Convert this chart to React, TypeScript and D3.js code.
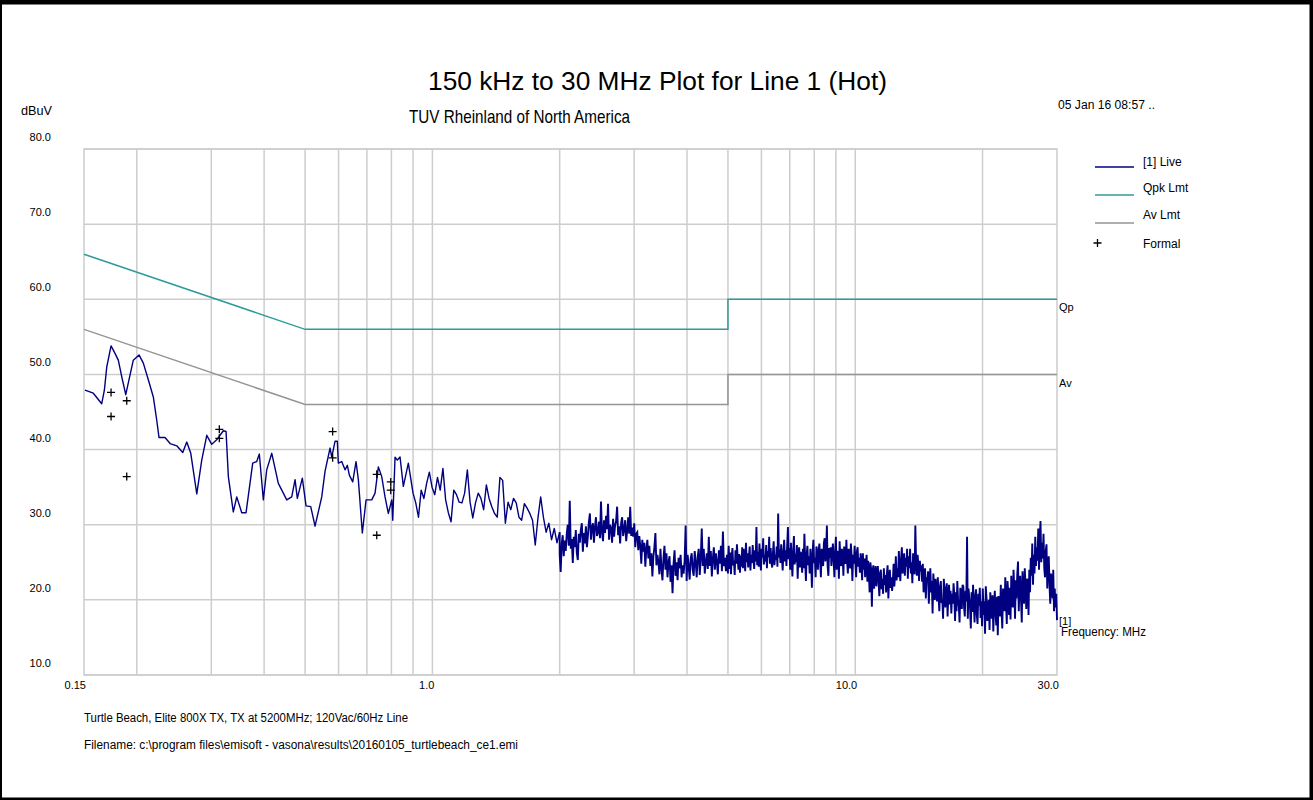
import React from 'react';
import * as d3 from 'd3';

const W = 1313;
const H = 800;
const PL = 84, PR = 1057, PT = 149, PB = 675;

const yTickValues = [80, 70, 60, 50, 40, 30, 20, 10];
const xTickLabels: [number, string][] = [[0.15, '0.15'], [1, '1.0'], [10, '10.0'], [30, '30.0']];
const xGridFreqs = [0.2, 0.3, 0.4, 0.5, 0.6, 0.7, 0.8, 0.9, 1, 2, 3, 4, 5, 6, 7, 8, 9, 10, 20];

const qpkFreq = [0.15, 0.5, 5, 5, 30];
const qpkVals = [66, 56, 56, 60, 60];
const avFreq = [0.15, 0.5, 5, 5, 30];
const avVals = [56, 46, 46, 50, 50];

// Live trace, low band: [MHz, dBuV]
const liveLow: [number, number][] = [
  [0.1508, 47.9], [0.1578, 47.5], [0.1652, 46.1], [0.1676, 47.9], [0.1698, 51.0], [0.1738, 53.8],
  [0.1776, 52.8], [0.1808, 51.9], [0.1842, 49.7], [0.1883, 47.3], [0.1927, 49.9], [0.1962, 51.9],
  [0.2024, 52.6], [0.2072, 51.5], [0.2129, 49.3], [0.2188, 47.0], [0.2229, 43.9], [0.2257, 41.6],
  [0.2332, 41.6], [0.2397, 40.8], [0.2486, 40.5], [0.2568, 39.6], [0.2625, 41.0], [0.2683, 39.5],
  [0.2772, 34.1], [0.2848, 38.6], [0.2927, 41.9], [0.3007, 40.7], [0.3090, 41.3], [0.3203, 42.5],
  [0.3251, 42.4], [0.3292, 36.4], [0.3382, 31.7], [0.3446, 33.7], [0.3541, 31.6], [0.3625, 31.6],
  [0.3759, 38.2], [0.3842, 38.4], [0.3897, 39.4], [0.3983, 33.3], [0.4057, 37.3], [0.4170, 39.5],
  [0.4322, 35.5], [0.4524, 33.3], [0.4649, 33.7], [0.4734, 36.0], [0.4793, 33.5], [0.4925, 36.2],
  [0.5026, 32.5], [0.5156, 32.4], [0.5278, 29.8], [0.5474, 33.7], [0.5573, 37.1], [0.5727, 40.2],
  [0.5781, 39.0], [0.5885, 41.1], [0.5959, 41.1], [0.5992, 38.2], [0.6104, 38.4], [0.6214, 37.3],
  [0.6293, 37.9], [0.6362, 36.6], [0.6480, 35.7], [0.6598, 38.4], [0.6682, 36.0], [0.6828, 28.9],
  [0.6968, 33.3], [0.7188, 33.3], [0.7318, 34.2], [0.7451, 37.7], [0.7589, 36.4], [0.7727, 33.7],
  [0.7867, 31.5], [0.8015, 33.3], [0.8058, 30.6], [0.8160, 39.0], [0.8262, 38.6], [0.8385, 39.0],
  [0.8537, 35.1], [0.8772, 38.2],
];

// Swept segments (log-spaced sweep points between start and stop), dBuV
const sweep1Start = 0.9, sweep1Stop = 2.0;
const sweep1Values = [
  34.2, 32.9, 31.0, 34.6, 33.5, 35.5, 37.0, 35.0, 34.0, 36.3,
  34.6, 37.5, 33.3, 31.6, 30.4, 34.6, 34.0, 33.0, 32.9, 34.2,
  37.3, 33.0, 30.9, 32.9, 34.2, 33.5, 32.0, 35.3, 33.5, 32.4,
  31.5, 31.0, 36.3, 35.9, 30.2, 33.0, 32.0, 33.5, 32.9, 31.0,
  30.6, 32.8, 32.2, 31.5, 30.6, 27.3, 30.9, 33.7, 31.0, 29.0,
  30.2, 28.0, 29.5, 27.6, 29.0,
];

const sweep2Start = 2.0, sweep2Stop = 5.0;
const sweep2Values = [
  26.0, 23.7, 27.5, 28.6, 25.8, 27.9, 26.5, 28.8, 30.0, 27.2, 33.2, 26.8, 28.1, 24.9,
  28.4, 27.0, 29.3, 26.2, 25.3, 28.8, 27.6, 29.3, 30.2, 26.4, 28.9, 27.5, 29.8, 27.0,
  28.5, 30.4, 31.5, 28.0, 29.6, 30.2, 27.6, 29.7, 31.0, 28.5, 29.0, 30.4, 28.2, 33.1,
  29.0, 27.8, 30.6, 28.9, 31.2, 29.4, 32.8, 28.0, 30.0, 29.5, 27.6, 30.8, 28.4, 29.9,
  30.5, 32.4, 28.6, 29.8, 27.5, 30.2, 31.0, 28.5, 29.4, 30.6, 27.8, 29.2, 31.0, 28.8,
  32.4, 28.5, 29.6, 28.4, 30.2, 27.0, 28.8, 29.0, 26.6, 28.5, 27.2, 24.8, 28.0, 26.4,
  27.6, 24.4, 26.8, 28.0, 25.5, 27.2, 24.5, 26.2, 23.1, 25.8, 27.0, 28.9, 24.6, 26.0,
  25.0, 23.4, 26.8, 24.2, 22.6, 25.5, 27.2, 24.0, 26.2, 23.0, 25.0, 25.8, 22.4, 24.6,
  20.9, 24.8, 26.6, 23.2, 25.0, 22.6, 25.6, 24.2, 26.0, 23.0, 24.6, 23.5, 25.2, 29.9,
  22.5, 26.0, 24.5, 22.7, 25.5, 26.2, 24.0, 23.2, 26.5, 25.0, 23.0, 25.8, 26.8, 23.3,
  25.5, 29.5, 24.5, 26.8, 23.5, 25.0, 26.2, 24.1, 28.4, 24.5, 26.5, 23.1, 25.5, 27.0,
  24.0, 26.2, 25.0, 23.4, 26.6, 24.8, 27.2, 23.8, 29.1, 24.5, 25.6, 23.8, 26.0, 23.5,
];

const sweep3Start = 5.0, sweep3Stop = 30.0;
const sweep3Values = [
  25.0, 27.2, 24.1, 26.3, 23.4, 25.8, 26.9, 24.6, 25.2, 23.3, 26.6, 24.8, 27.4, 25.5, 24.0, 26.1, 23.6, 25.9, 24.4, 27.0,
  24.2, 26.8, 25.3, 23.8, 27.6, 25.0, 26.2, 24.3, 25.7, 27.1, 23.9, 26.0, 24.9, 27.3, 25.4, 24.1, 26.6, 25.1, 29.7, 24.6,
  26.4, 24.4, 27.5, 25.2, 23.9, 26.8, 25.6, 28.2, 24.7, 26.0, 25.1, 27.3, 24.2, 26.5, 25.7, 28.4, 24.8, 26.9, 25.0, 24.3,
  26.2, 27.8, 24.6, 26.0, 25.3, 27.1, 24.4, 31.5, 25.6, 26.7, 24.9, 27.4, 25.8, 23.9, 26.3, 28.0, 25.1, 26.6, 24.5, 27.2,
  29.7, 25.4, 26.9, 24.0, 27.6, 25.2, 23.1, 26.5, 28.5, 24.7, 26.1, 25.0, 27.3, 22.8, 25.9, 27.0, 24.3, 26.4, 25.5, 23.6,
  26.8, 24.2, 28.8, 25.3, 22.5, 26.0, 27.2, 24.6, 25.8, 23.5, 26.8, 25.1, 21.6, 26.4, 28.0, 24.9, 25.6, 23.0, 27.1, 26.5,
  24.0, 26.6, 27.5, 25.0, 23.0, 26.8, 25.4, 24.5, 27.6, 28.2, 25.1, 26.3, 29.9, 24.4, 23.2, 26.9, 25.6, 27.0, 24.5, 26.1,
  27.5, 25.2, 23.0, 26.4, 28.4, 24.0, 25.9, 26.5, 22.8, 27.8, 25.3, 24.5, 26.8, 26.0, 23.2, 27.1, 25.5, 24.8, 28.0, 25.0,
  23.5, 26.8, 25.4, 24.2, 27.5, 25.8, 22.5, 26.0, 24.8, 27.2, 25.1, 23.0, 26.4, 27.0, 24.4, 25.6, 23.6, 26.2, 24.9, 22.6,
  26.2, 24.0, 25.5, 23.0, 24.8, 26.0, 22.4, 25.2, 23.6, 21.0, 25.0, 24.1, 19.1, 23.9, 24.6, 21.5, 23.2, 24.5, 21.8, 23.5,
  24.5, 22.2, 20.5, 23.6, 24.0, 21.4, 22.8, 20.8, 24.2, 22.0, 23.3, 21.0, 23.5, 24.6, 20.2, 22.6, 24.0, 21.6, 23.0, 21.2,
  22.4, 24.8, 21.8, 23.5, 25.8, 22.6, 24.2, 23.0, 26.5, 24.0, 22.5, 25.5, 27.0, 23.5, 24.8, 26.2, 23.2, 25.6, 24.4, 26.8,
  22.8, 25.8, 24.2, 26.8, 23.5, 25.0, 22.2, 26.2, 24.6, 23.4, 29.9, 25.2, 23.2, 26.0, 24.8, 22.5, 25.2, 23.8, 24.6, 22.4,
  24.8, 21.0, 23.6, 24.2, 20.2, 23.0, 22.4, 23.8, 19.5, 22.6, 24.2, 21.0, 22.5, 18.2, 23.5, 21.8, 20.0, 22.8, 21.2, 19.8,
  23.0, 20.4, 18.5, 21.8, 22.5, 19.6, 20.0, 17.5, 22.8, 21.0, 19.0, 21.5, 22.2, 17.8, 20.6, 22.0, 19.4, 21.2, 18.2, 20.8,
  19.5, 22.2, 20.6, 17.2, 21.0, 18.5, 22.5, 20.0, 19.2, 17.0, 21.6, 20.5, 18.8, 22.0, 21.8, 19.0, 17.8, 21.2, 19.8, 28.4,
  17.5, 21.5, 20.2, 19.0, 16.2, 21.0, 18.4, 22.0, 19.6, 17.0, 20.5, 21.4, 18.0, 16.8, 20.8, 19.2, 21.6, 17.6, 19.8, 16.5,
  21.5, 18.0, 19.8, 15.5, 21.8, 20.2, 17.2, 18.8, 20.0, 16.0, 21.0, 19.4, 17.5, 20.6, 15.8, 19.0, 21.2, 18.2, 16.6, 20.4,
  15.3, 20.5, 19.0, 17.8, 22.0, 18.6, 16.2, 21.5, 20.0, 18.5, 23.0, 19.6, 16.8, 22.5, 20.8, 18.0, 21.6, 17.4, 23.2, 19.8,
  19.0, 24.0, 21.5, 17.5, 22.6, 20.2, 23.4, 25.1, 18.5, 21.8, 23.2, 20.0, 17.0, 23.8, 21.0, 19.5, 24.2, 22.0, 18.8, 22.8,
  22.5, 18.0, 24.0, 21.0, 25.6, 23.2, 27.5, 22.0, 26.0, 23.5, 28.4, 24.5, 27.0, 25.2, 29.5, 24.0, 28.2, 30.5, 25.0, 27.6,
  25.5, 28.8, 24.2, 23.0, 26.5, 27.4, 21.5, 24.2, 25.8, 22.0, 19.5, 23.5, 22.5, 20.2, 24.0, 18.5, 21.5, 19.0, 20.8, 17.3,
];

// Formal (quasi-peak) measurement markers
const formalFreq = [0.1738, 0.1738, 0.1893, 0.1893, 0.3134, 0.3134, 0.5809, 0.5809, 0.7386, 0.7386, 0.7971, 0.7971];
const formalVals = [47.6, 44.4, 46.5, 36.4, 42.7, 41.5, 42.4, 38.9, 36.7, 28.6, 35.7, 34.6];

const legendItems = ['[1] Live', 'Qpk Lmt', 'Av Lmt', 'Formal'];

const NAVY = '#000080';
const TEAL = '#2f9c98';
const GREY = '#959595';
const GRID = '#cdcdcd';
const FONT = 'Liberation Sans, Arial, sans-serif';

function sweep(start: number, stop: number, values: number[]): [number, number][] {
  const n = values.length;
  return values.map((v, i) => [start * Math.pow(stop / start, i / (n - 1)), v]);
}

export default function App() {
  const x = d3.scaleLog().domain([0.15, 30]).range([PL, PR]);
  const y = d3.scaleLinear().domain([10, 80]).range([PB, PT]);
  const line = d3.line<[number, number]>().x(d => x(d[0])).y(d => y(d[1]));

  const lowPart: [number, number][] = [
    ...liveLow,
    ...sweep(sweep1Start, sweep1Stop, sweep1Values),
  ];
  const highPart: [number, number][] = [
    lowPart[lowPart.length - 1],
    ...sweep(sweep2Start, sweep2Stop, sweep2Values),
    ...sweep(sweep3Start, sweep3Stop, sweep3Values),
  ];
  const qpk = qpkFreq.map((f, i) => [f, qpkVals[i]] as [number, number]);
  const av = avFreq.map((f, i) => [f, avVals[i]] as [number, number]);

  const plus = (cx: number, cy: number) => `M${cx - 4},${cy}H${cx + 4}M${cx},${cy - 4}V${cy + 4}`;

  const legY = [167, 195, 223, 243];
  const legTextY = [166, 192, 219, 248];

  return (
    <svg width={W} height={H} style={{ position: 'absolute', left: 0, top: 0, background: '#fff' }}
      fontFamily={FONT}>
      <rect x={0} y={0} width={W} height={H} fill="#fff" />
      {/* outer frame */}
      <rect x={0} y={0} width={W} height={4.5} fill="#000" />
      <rect x={0} y={0} width={2} height={H} fill="#000" />
      <rect x={1309.5} y={0} width={3.5} height={H} fill="#000" />
      <rect x={0} y={797.5} width={W} height={2.5} fill="#000" />

      {/* grid */}
      {yTickValues.map(v => (
        <line key={'gy' + v} x1={PL} x2={PR} y1={y(v)} y2={y(v)} stroke={GRID} strokeWidth={1.5} />
      ))}
      {xGridFreqs.map(f => (
        <line key={'gx' + f} x1={x(f)} x2={x(f)} y1={PT} y2={PB} stroke={GRID} strokeWidth={1.5} />
      ))}
      <rect x={PL} y={PT} width={PR - PL} height={PB - PT} fill="none" stroke={GRID} strokeWidth={1.5} />

      {/* limits */}
      <path d={line(av) || ''} fill="none" stroke={GREY} strokeWidth={1.5} />
      <path d={line(qpk) || ''} fill="none" stroke={TEAL} strokeWidth={1.5} />

      {/* live trace */}
      <path d={line(lowPart) || ''} fill="none" stroke={NAVY} strokeWidth={1.4} strokeLinejoin="round" />
      <path d={line(highPart) || ''} fill="none" stroke={NAVY} strokeWidth={1.9} strokeLinejoin="miter" />

      {/* formal markers */}
      {formalFreq.map((f, i) => (
        <path key={'fm' + i} d={plus(x(f), y(formalVals[i]))} stroke="#000" strokeWidth={1.3} />
      ))}

      {/* y labels */}
      <text x={21} y={115} fontSize={12} textLength={31} lengthAdjust="spacingAndGlyphs">dBuV</text>
      {yTickValues.map(v => (
        <text key={'yl' + v} x={51} y={y(v) - 8} fontSize={11} textAnchor="end">{v.toFixed(1)}</text>
      ))}
      {/* x labels */}
      {xTickLabels.map(([f, l]) => (
        <text key={'xl' + l} x={x(f) + 2} y={689} fontSize={11} textAnchor="end">{l}</text>
      ))}

      {/* titles */}
      <text x={657.5} y={90} fontSize={25} textAnchor="middle" textLength={459} lengthAdjust="spacingAndGlyphs">150 kHz to 30 MHz Plot for Line 1 (Hot)</text>
      <text x={519.5} y={123} fontSize={19} textAnchor="middle" textLength={221} lengthAdjust="spacingAndGlyphs">TUV Rheinland of North America</text>
      <text x={1058} y={109} fontSize={12} textLength={97} lengthAdjust="spacingAndGlyphs">05 Jan 16 08:57 ..</text>

      {/* legend */}
      <line x1={1095} x2={1134} y1={legY[0]} y2={legY[0]} stroke={NAVY} strokeWidth={1.5} />
      <line x1={1095} x2={1134} y1={legY[1]} y2={legY[1]} stroke={TEAL} strokeWidth={1.5} />
      <line x1={1095} x2={1134} y1={legY[2]} y2={legY[2]} stroke={GREY} strokeWidth={1.5} />
      <path d={plus(1097.5, legY[3])} stroke="#000" strokeWidth={1.3} />
      {legendItems.map((t, i) => (
        <text key={t} x={1143} y={legTextY[i]} fontSize={12}>{t}</text>
      ))}

      {/* right side labels */}
      <text x={1059} y={311} fontSize={11}>Qp</text>
      <text x={1059} y={387} fontSize={11}>Av</text>
      <text x={1059} y={625} fontSize={11}>[1]</text>
      <text x={1061} y={636} fontSize={12} textLength={85} lengthAdjust="spacingAndGlyphs">Frequency: MHz</text>

      {/* footer */}
      <text x={84} y={722} fontSize={12} textLength={324} lengthAdjust="spacingAndGlyphs">Turtle Beach, Elite 800X TX, TX at 5200MHz; 120Vac/60Hz Line</text>
      <text x={84} y={749} fontSize={12} textLength={434} lengthAdjust="spacingAndGlyphs">Filename: c:\program files\emisoft - vasona\results\20160105_turtlebeach_ce1.emi</text>
    </svg>
  );
}
